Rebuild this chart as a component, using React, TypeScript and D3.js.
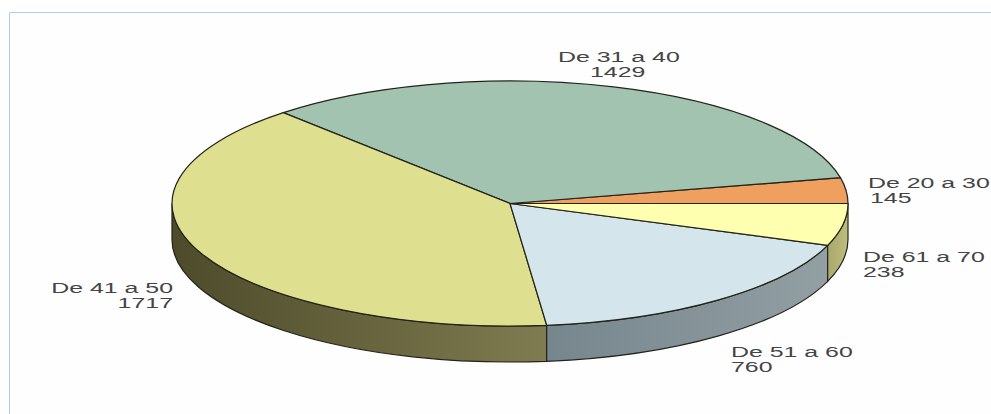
import React from 'react';
import * as d3 from 'd3';

const categories = ['De 20 a 30', 'De 31 a 40', 'De 41 a 50', 'De 51 a 60', 'De 61 a 70'];
const values = [145, 1429, 1717, 760, 238];
const topColors = ['#ef9f5e', '#a2c3b0', '#dee08f', '#d4e6ec', '#ffffb0'];
const wallFrom = ['#8a5c36', '#5e7166', '#4d4b2b', '#76868d', '#a8a86c'];
const wallTo = ['#8a5c36', '#5e7166', '#7f7c50', '#929fa3', '#bdbd80'];

// label placement: x, first baseline, anchor and x of the value line
const labelPos: Array<[number, number, string, number]> = [
    [868, 188, 'start', 870],
    [558, 62, 'start', 590],
    [173, 293, 'end', 173],
    [731, 357, 'start', 731],
    [863, 262, 'start', 863],
];

const width = 991;
const height = 414;
const cx = 510;
const cy = 203.5;
const rx = 338;
const ry = 122.5;
const depth = 36;

const px = (a: number) => cx + rx * Math.sin(a);
const py = (a: number) => cy - ry * Math.cos(a);

const App: React.FC = () => {
    // counter-clockwise from 3 o'clock
    const slices = d3
        .pie<number>()
        .sort(null)
        .startAngle(Math.PI / 2)
        .endAngle(-1.5 * Math.PI)(values);

    const arc = d3.arc<d3.PieArcDatum<number>>().innerRadius(0).outerRadius(rx);

    // only the part of a slice in the front half has a visible wall
    const walls = slices
        .map((s, i) => {
            const a0 = Math.min(s.startAngle, -Math.PI / 2);
            const a1 = Math.max(s.endAngle, -1.5 * Math.PI);
            return { i, a0, a1 };
        })
        .filter((w) => w.a0 > w.a1);

    return (
        <svg
            width={width}
            height={height}
            style={{ position: 'absolute', left: 0, top: 0, background: '#fefefe' }}
        >
            <defs>
                {walls.map((w) => (
                    <linearGradient
                        key={w.i}
                        id={`wall${w.i}`}
                        gradientUnits="userSpaceOnUse"
                        x1={px(w.a0)}
                        x2={px(w.a1)}
                        y1={0}
                        y2={0}
                    >
                        <stop offset="0" stopColor={wallFrom[w.i]} />
                        <stop offset="1" stopColor={wallTo[w.i]} />
                    </linearGradient>
                ))}
            </defs>

            <rect x={0} y={0} width={width} height={12} fill="#ffffff" />
            <rect x={0} y={12} width={9} height={height} fill="#ffffff" />
            <path d={`M9.5,${height}V12.5H${width}`} fill="none" stroke="#aaccff" strokeWidth={1} />

            {walls.map((w) => (
                <path
                    key={w.i}
                    d={
                        `M${px(w.a0)},${py(w.a0)}` +
                        `A${rx},${ry} 0 0 0 ${px(w.a1)},${py(w.a1)}` +
                        `L${px(w.a1)},${py(w.a1) + depth}` +
                        `A${rx},${ry} 0 0 1 ${px(w.a0)},${py(w.a0) + depth}Z`
                    }
                    fill={`url(#wall${w.i})`}
                    stroke="#23231a"
                    strokeWidth={1.2}
                />
            ))}

            <g transform={`translate(${cx},${cy}) scale(1,${ry / rx})`}>
                {slices.map((s, i) => (
                    <path
                        key={categories[i]}
                        d={arc(s) || ''}
                        fill={topColors[i]}
                        stroke="#23231a"
                        strokeWidth={1.2}
                        vectorEffect="non-scaling-stroke"
                    />
                ))}
            </g>

            {categories.map((c, i) => {
                const [x, y, anchor, vx] = labelPos[i];
                return (
                    <g
                        key={c}
                        fontFamily="'Liberation Sans', Arial, sans-serif"
                        fontSize={15}
                        fill="#444444"
                        textAnchor={anchor}
                    >
                        <text transform={`translate(${x},${y}) scale(1.66,1)`}>{c}</text>
                        <text transform={`translate(${vx},${y + 15}) scale(1.66,1)`}>{values[i]}</text>
                    </g>
                );
            })}
        </svg>
    );
};

export default App;
